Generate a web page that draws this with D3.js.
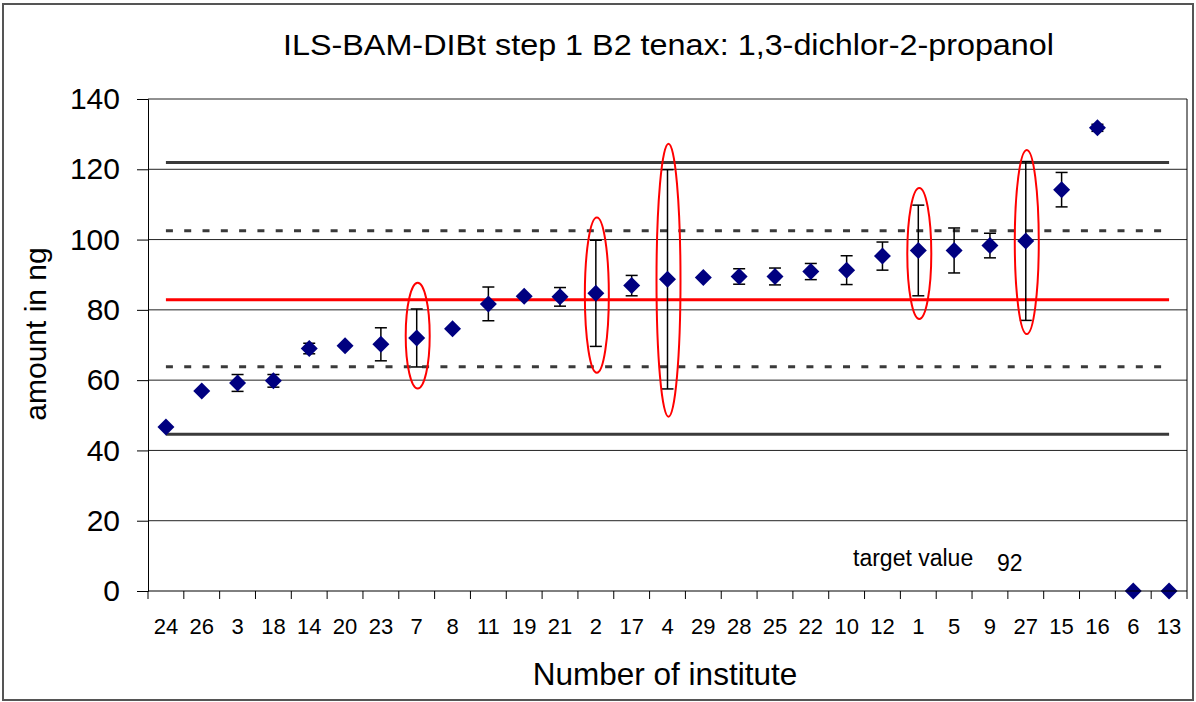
<!DOCTYPE html>
<html>
<head>
<meta charset="utf-8">
<script src="https://cdn.jsdelivr.net/npm/d3@7"></script>
<style>
    body { margin: 0; background: #fff; }
    text { font-family: "Liberation Sans", Arial, sans-serif; fill: #000; }
</style>
</head>
<body>
<div id="chart"></div>
<script>

// institutes in plotted order
let institutes = ['24','26','3','18','14','20','23','7','8','11','19','21','2','17','4','29','28','25','22','10','12','1','5','9','27','15','16','6','13'];
// mean amount in ng
let means = [46.7, 56.9, 59.2, 59.8, 69.0, 69.8, 70.2, 72.0, 74.6, 81.7, 83.9, 83.7, 84.7, 86.9, 88.7, 89.2, 89.5, 89.5, 90.9, 91.3, 95.3, 96.9, 96.9, 98.3, 99.6, 114.2, 131.8, 0, 0];
// +/- standard deviation
let errors = [0, 0, 2.4, 1.8, 1.5, 0, 4.7, 8.25, 0, 4.8, 0, 2.65, 15.1, 2.9, 31.2, 0, 2.2, 2.4, 2.3, 4.1, 4.0, 12.9, 6.4, 3.5, 22.6, 4.9, 1.0, 0, 0];

// horizontal reference lines
let refValues = [44.6, 121.9, 63.8, 102.5, 82.9];
let refKinds = ['limit', 'limit', 'dash', 'dash', 'mean'];

// red ellipses around outlying deviations
let circled = ['7', '2', '4', '1', '27'];
let circleLow = [57.6, 62.1, 49.6, 77.4, 73.1];
let circleHigh = [87.7, 106.3, 127.3, 114.7, 125.5];

let yTicks = [0, 20, 40, 60, 80, 100, 120, 140];
let targetValue = 92;

class ErrorChart {

    constructor(parentElement) {
        this.parentElement = parentElement;
        this.initVis();
    }

    initVis() {
        let vis = this;

        vis.W = 1196;
        vis.H = 702;
        vis.plot = {left: 148, right: 1187, top: 99, bottom: 591};

        vis.svg = d3.select('#' + vis.parentElement).append('svg')
            .attr('width', vis.W)
            .attr('height', vis.H);

        // outer frame
        vis.svg.append('rect')
            .attr('x', 3).attr('y', 4)
            .attr('width', vis.W - 6).attr('height', vis.H - 6)
            .attr('fill', 'none')
            .attr('stroke', '#555')
            .attr('stroke-width', 2);

        vis.x = d3.scaleBand()
            .domain(institutes)
            .range([vis.plot.left, vis.plot.right]);

        vis.y = d3.scaleLinear()
            .domain([0, 140])
            .range([vis.plot.bottom, vis.plot.top]);

        // title (stretched a little wider, as in the original)
        vis.svg.append('text')
            .attr('x', 283).attr('y', 55)
            .attr('textLength', 771)
            .attr('lengthAdjust', 'spacingAndGlyphs')
            .style('font-size', '29px')
            .text('ILS-BAM-DIBt step 1 B2 tenax: 1,3-dichlor-2-propanol');

        vis.drawGrid();
        vis.drawRefLines();
        vis.drawPoints();
        vis.drawAxes();
        vis.drawLabels();
    }

    drawGrid() {
        let vis = this;

        vis.svg.append('g')
            .selectAll('line')
            .data(yTicks.filter(d => d > 0))
            .join('line')
            .attr('x1', vis.plot.left).attr('x2', vis.plot.right)
            .attr('y1', d => vis.y(d)).attr('y2', d => vis.y(d))
            .attr('stroke', '#222')
            .attr('stroke-width', 1);

        // right border of the plot
        vis.svg.append('line')
            .attr('x1', vis.plot.right).attr('x2', vis.plot.right)
            .attr('y1', vis.plot.top).attr('y2', vis.plot.bottom)
            .attr('stroke', '#000');
    }

    drawRefLines() {
        let vis = this;
        let x0 = vis.x(institutes[0]) + vis.x.bandwidth() / 2;
        let x1 = vis.x(institutes[institutes.length - 1]) + vis.x.bandwidth() / 2;

        let refData = refValues.map((v, i) => ({value: v, kind: refKinds[i]}));

        vis.svg.append('g')
            .selectAll('line')
            .data(refData)
            .join('line')
            .attr('x1', x0).attr('x2', x1)
            .attr('y1', d => vis.y(d.value)).attr('y2', d => vis.y(d.value))
            .attr('stroke', d => d.kind === 'mean' ? '#ff0000' : '#3a3a3a')
            .attr('stroke-width', 3)
            .attr('stroke-dasharray', d => d.kind === 'dash' ? '7,11.3' : null);
    }

    drawPoints() {
        let vis = this;
        let half = vis.x.bandwidth() / 2;

        let pts = institutes.map((d, i) => ({inst: d, mean: means[i], err: errors[i]}));
        let withErr = pts.filter(d => d.err > 0);

        let bars = vis.svg.append('g')
            .attr('stroke', '#000')
            .attr('stroke-width', 1.5);

        bars.selectAll('.stem')
            .data(withErr)
            .join('line')
            .attr('class', 'stem')
            .attr('x1', d => vis.x(d.inst) + half).attr('x2', d => vis.x(d.inst) + half)
            .attr('y1', d => vis.y(d.mean - d.err)).attr('y2', d => vis.y(d.mean + d.err));

        bars.selectAll('.capTop')
            .data(withErr)
            .join('line')
            .attr('class', 'capTop')
            .attr('x1', d => vis.x(d.inst) + half - 6).attr('x2', d => vis.x(d.inst) + half + 6)
            .attr('y1', d => vis.y(d.mean + d.err)).attr('y2', d => vis.y(d.mean + d.err));

        bars.selectAll('.capBottom')
            .data(withErr)
            .join('line')
            .attr('class', 'capBottom')
            .attr('x1', d => vis.x(d.inst) + half - 6).attr('x2', d => vis.x(d.inst) + half + 6)
            .attr('y1', d => vis.y(d.mean - d.err)).attr('y2', d => vis.y(d.mean - d.err));

        // diamonds
        let diamond = 'M0,-8.5L8.5,0L0,8.5L-8.5,0Z';
        vis.svg.append('g')
            .selectAll('path')
            .data(pts)
            .join('path')
            .attr('d', diamond)
            .attr('transform', d => `translate(${vis.x(d.inst) + half},${vis.y(d.mean)})`)
            .attr('fill', '#000080');

        // ellipses
        let rings = circled.map((d, i) => ({inst: d, lo: circleLow[i], hi: circleHigh[i]}));
        vis.svg.append('g')
            .selectAll('ellipse')
            .data(rings)
            .join('ellipse')
            .attr('cx', d => vis.x(d.inst) + half + 1)
            .attr('cy', d => (vis.y(d.lo) + vis.y(d.hi)) / 2)
            .attr('rx', 12)
            .attr('ry', d => (vis.y(d.lo) - vis.y(d.hi)) / 2)
            .attr('fill', 'none')
            .attr('stroke', '#ff0000')
            .attr('stroke-width', 2);
    }

    drawAxes() {
        let vis = this;

        let yAxis = vis.svg.append('g')
            .attr('transform', `translate(${vis.plot.left},0)`)
            .call(d3.axisLeft(vis.y).tickValues(yTicks).tickSize(11).tickPadding(17));
        yAxis.select('.domain').attr('stroke', '#000');
        yAxis.selectAll('text')
            .style('font-size', '30px')
            .attr('font-family', null);

        let xAxis = vis.svg.append('g')
            .attr('transform', `translate(0,${vis.plot.bottom})`)
            .call(d3.axisBottom(vis.x).tickSize(0).tickPadding(27));
        xAxis.select('.domain').attr('stroke', '#000').attr('d', `M${vis.plot.left},0H${vis.plot.right}`);
        xAxis.selectAll('text')
            .style('font-size', '22px')
            .attr('font-family', null);

        // ticks between categories
        let edges = institutes.map(d => vis.x(d)).concat([vis.plot.right]);
        vis.svg.append('g')
            .selectAll('line')
            .data(edges)
            .join('line')
            .attr('x1', d => d).attr('x2', d => d)
            .attr('y1', vis.plot.bottom).attr('y2', vis.plot.bottom + 8)
            .attr('stroke', '#000');
    }

    drawLabels() {
        let vis = this;

        vis.svg.append('text')
            .attr('transform', 'translate(46,334) rotate(-90)')
            .attr('text-anchor', 'middle')
            .style('font-size', '30px')
            .text('amount in ng');

        vis.svg.append('text')
            .attr('x', 665).attr('y', 685)
            .attr('text-anchor', 'middle')
            .style('font-size', '31.5px')
            .text('Number of institute');

        vis.svg.append('text')
            .attr('x', 853).attr('y', 566)
            .style('font-size', '23px')
            .text('target value');

        vis.svg.append('text')
            .attr('x', 997).attr('y', 571)
            .style('font-size', '23px')
            .text(targetValue);
    }
}

new ErrorChart('chart');
</script>
</body>
</html>
